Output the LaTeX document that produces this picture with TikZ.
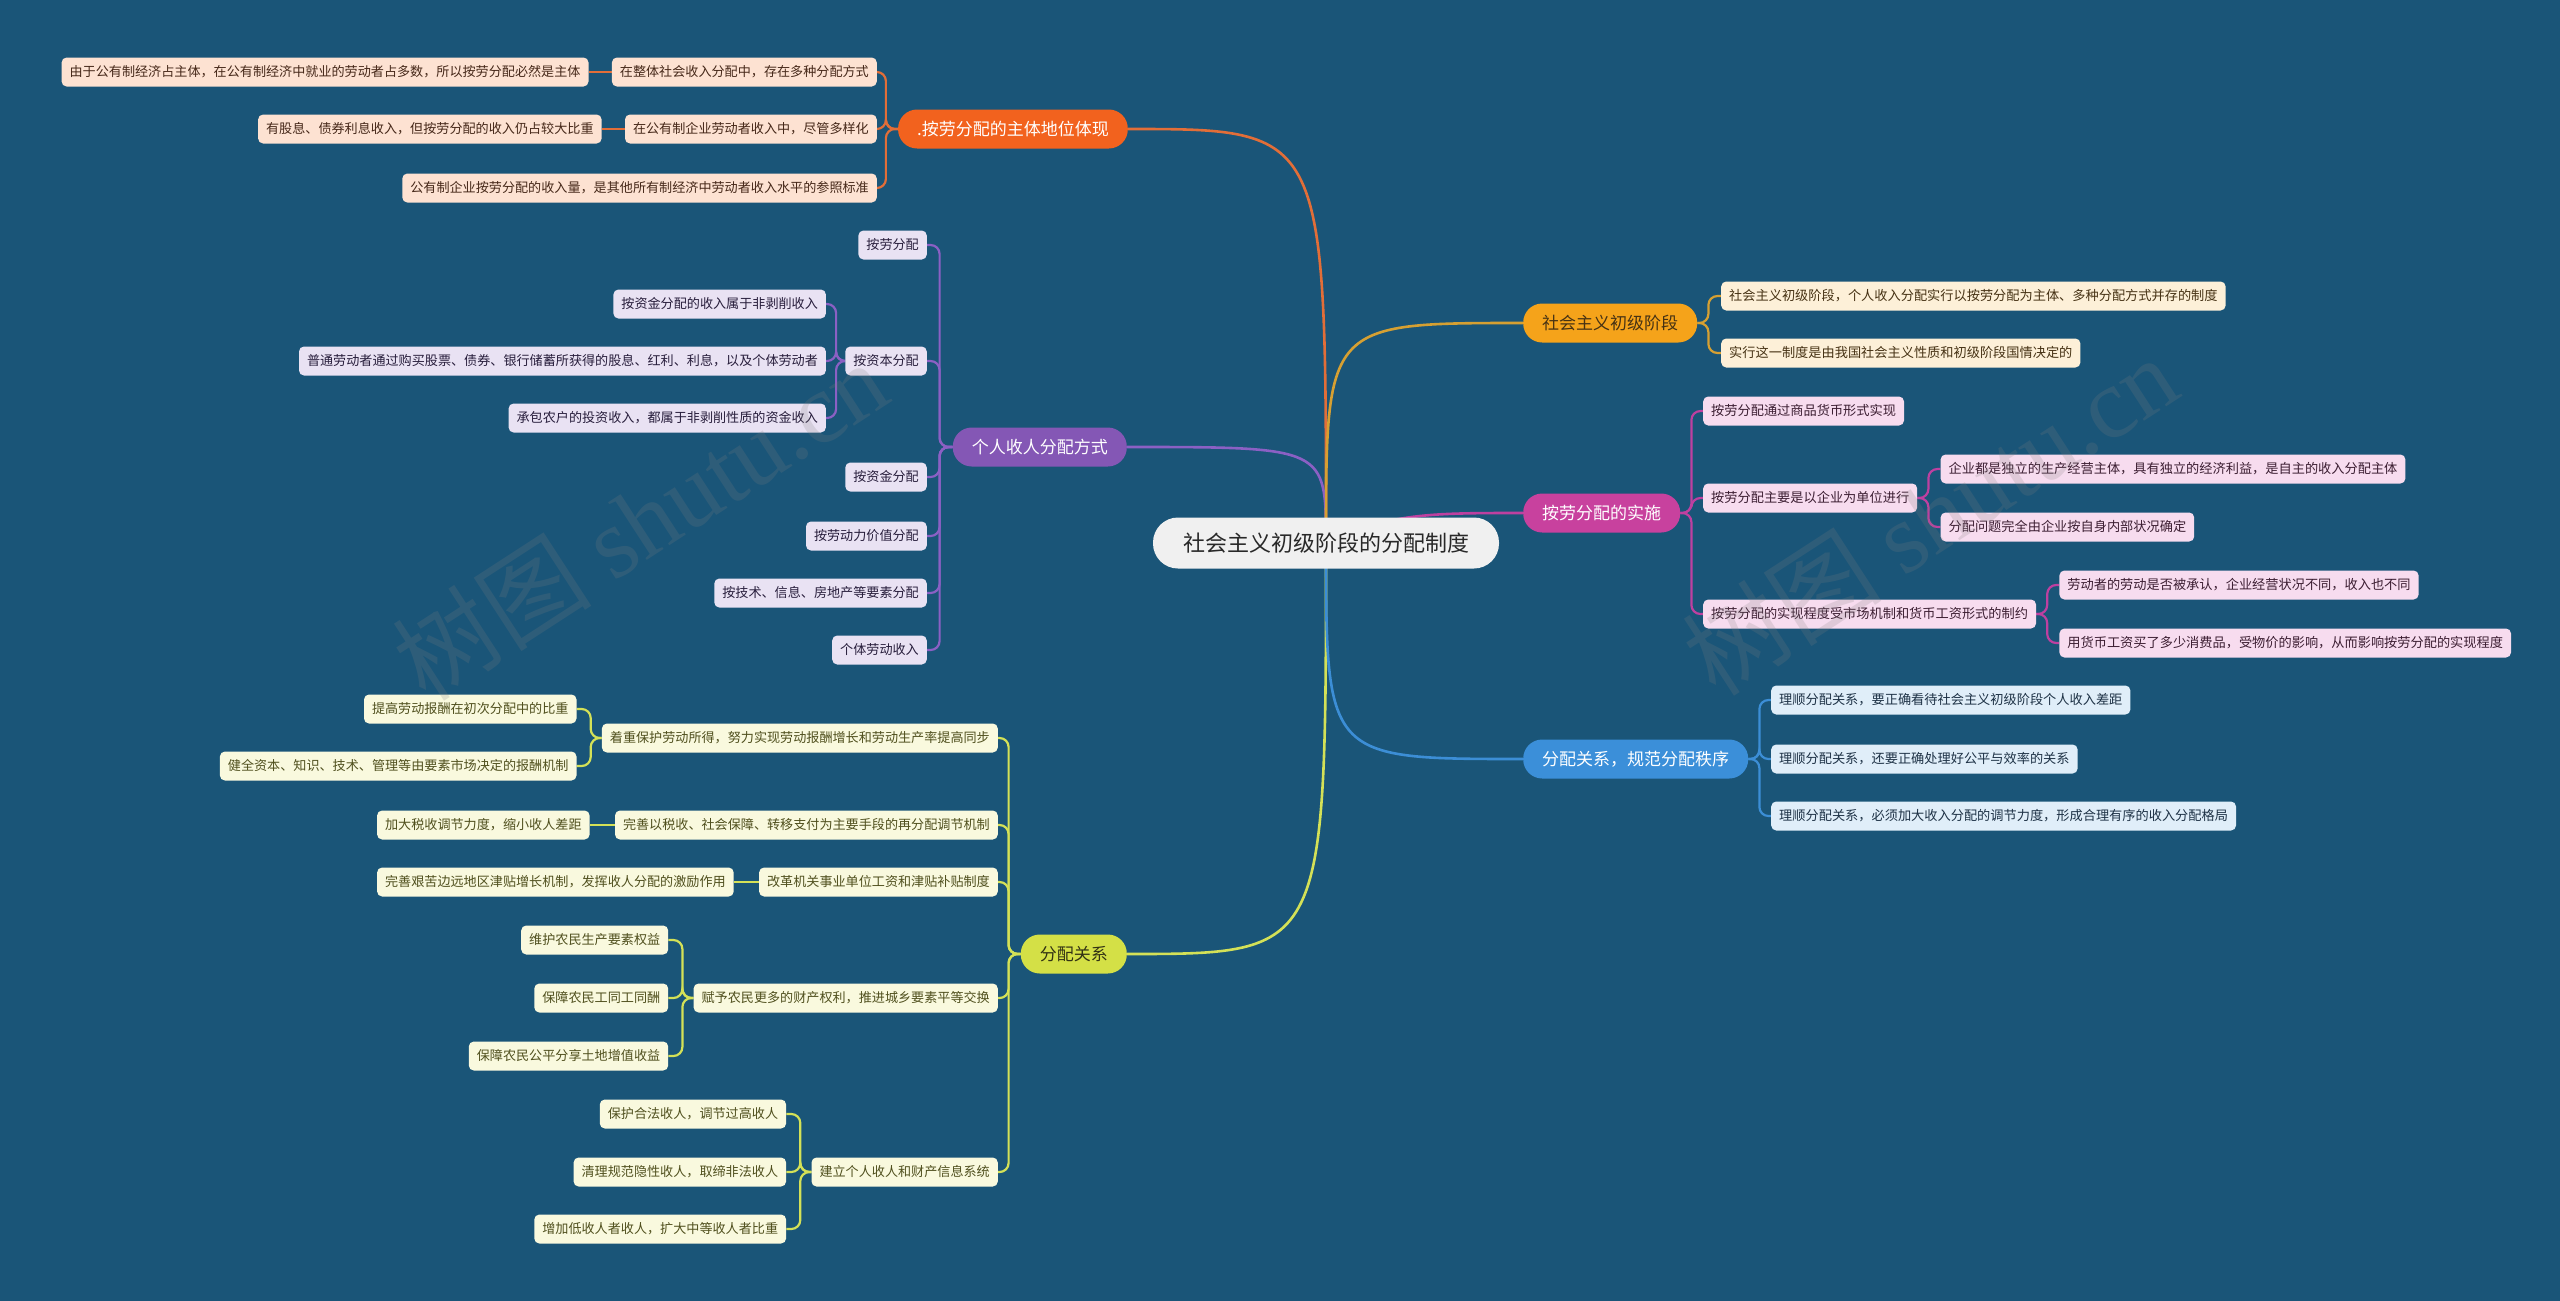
\documentclass[tikz,border=0pt]{standalone}
\usepackage{fontspec}
\setmainfont{Noto Sans CJK SC}
\newfontfamily\wmserif{Liberation Serif}
\usetikzlibrary{positioning}
\pgfdeclarelayer{bg}
\pgfdeclarelayer{edges}
\pgfsetlayers{bg,edges,main}
\definecolor{bgc}{RGB}{26,85,120}
\definecolor{oM}{RGB}{242,98,30}
\definecolor{oL}{RGB}{253,226,210}
\definecolor{oE}{RGB}{226,110,56}
\definecolor{oT}{RGB}{70,40,25}
\definecolor{pM}{RGB}{132,87,181}
\definecolor{pL}{RGB}{233,226,243}
\definecolor{pE}{RGB}{139,96,196}
\definecolor{pT}{RGB}{40,30,60}
\definecolor{yM}{RGB}{212,224,70}
\definecolor{yL}{RGB}{249,249,222}
\definecolor{yE}{RGB}{212,225,87}
\definecolor{yT}{RGB}{80,80,30}
\definecolor{sM}{RGB}{245,163,26}
\definecolor{sL}{RGB}{253,240,216}
\definecolor{sE}{RGB}{214,160,50}
\definecolor{sT}{RGB}{70,50,20}
\definecolor{mM}{RGB}{200,65,158}
\definecolor{mL}{RGB}{247,220,239}
\definecolor{mE}{RGB}{190,64,160}
\definecolor{mT}{RGB}{60,30,50}
\definecolor{bM}{RGB}{59,143,217}
\definecolor{bL}{RGB}{224,238,249}
\definecolor{bE}{RGB}{60,142,214}
\definecolor{bT}{RGB}{30,50,70}
\definecolor{rootF}{RGB}{240,240,240}
\tikzset{
  leafbase/.style={rounded corners=5pt, inner xsep=8pt, inner ysep=0pt,
    minimum height=29pt, text height=11pt, text depth=2pt,
    font=\fontsize{13.1}{15}\selectfont},
  rleafbase/.style={leafbase, font=\fontsize{13.2}{15}\selectfont},
  mainbase/.style={rounded corners=19pt, inner xsep=19pt, inner ysep=0pt,
    minimum height=39pt, text height=14pt, text depth=1.5pt,
    font=\fontsize{17}{20}\selectfont},
  rootn/.style={fill=rootF, text={rgb,255:red,40;green,40;blue,40}, rounded corners=25pt,
    inner xsep=30pt, inner ysep=0pt, minimum height=51pt, text height=18pt, text depth=1.5pt,
    font=\fontsize{22}{26}\selectfont},
  oleaf/.style={leafbase, fill=oL, text=oT},
  pleaf/.style={leafbase, fill=pL, text=pT},
  yleaf/.style={leafbase, fill=yL, text=yT},
  sleaf/.style={rleafbase, fill=sL, text=sT},
  mleaf/.style={rleafbase, fill=mL, text=mT},
  bleaf/.style={rleafbase, fill=bL, text=bT},
  rootedge/.style={line width=2.6pt},
  subedge/.style={line width=2.2pt, rounded corners=9pt},
  wm/.style={rotate=33, opacity=0.2, text=gray, font=\fontsize{100}{110}\selectfont},
}
\begin{document}
\begin{tikzpicture}[x=1pt, y=-1pt]
\useasboundingbox (0,0) rectangle (2560,1301);
\begin{pgfonlayer}{bg}
\fill[bgc] (0,0) rectangle (2560,1301);
\end{pgfonlayer}

% root
\node[rootn] (root) at (1326,543) {社会主义初级阶段的分配制度};

% ---------- orange branch ----------
\node[mainbase, fill=oM, text=white, anchor=east] (o) at (1128,129) {.按劳分配的主体地位体现};
\node[oleaf, anchor=east] (o1) at (877,72) {在整体社会收入分配中，存在多种分配方式};
\node[oleaf, anchor=east] (o2) at (877,129) {在公有制企业劳动者收入中，尽管多样化};
\node[oleaf, anchor=east] (o3) at (877,188) {公有制企业按劳分配的收入量，是其他所有制经济中劳动者收入水平的参照标准};
\node[oleaf, left=23pt of o1] (o11) {由于公有制经济占主体，在公有制经济中就业的劳动者占多数，所以按劳分配必然是主体};
\node[oleaf, left=23pt of o2] (o21) {有股息、债券利息收入，但按劳分配的收入仍占较大比重};

% ---------- purple branch ----------
\node[mainbase, fill=pM, text=white, anchor=east] (p) at (1127,447) {个人收人分配方式};
\node[pleaf, anchor=east] (p1) at (927,245) {按劳分配};
\node[pleaf, anchor=east] (p2) at (927,361) {按资本分配};
\node[pleaf, anchor=east] (p3) at (927,477) {按资金分配};
\node[pleaf, anchor=east] (p4) at (927,536) {按劳动力价值分配};
\node[pleaf, anchor=east] (p5) at (927,593) {按技术、信息、房地产等要素分配};
\node[pleaf, anchor=east] (p6) at (927,650) {个体劳动收入};
\node[pleaf, anchor=east, xshift=-19pt] (p21) at (p2.west |- 0,304) {按资金分配的收入属于非剥削收入};
\node[pleaf, anchor=east, xshift=-19pt] (p22) at (p2.west |- 0,361) {普通劳动者通过购买股票、债券、银行储蓄所获得的股息、红利、利息，以及个体劳动者};
\node[pleaf, anchor=east, xshift=-19pt] (p23) at (p2.west |- 0,418) {承包农户的投资收入，都属于非剥削性质的资金收入};

% ---------- yellow branch ----------
\node[mainbase, fill=yM, text={rgb,255:red,50;green,50;blue,20}, anchor=east] (y) at (1127,954) {分配关系};
\node[yleaf, anchor=east] (y1) at (998,738) {着重保护劳动所得，努力实现劳动报酬增长和劳动生产率提高同步};
\node[yleaf, anchor=east] (y2) at (998,825) {完善以税收、社会保障、转移支付为主要手段的再分配调节机制};
\node[yleaf, anchor=east] (y3) at (998,882) {改革机关事业单位工资和津贴补贴制度};
\node[yleaf, anchor=east] (y4) at (998,998) {赋予农民更多的财产权利，推进城乡要素平等交换};
\node[yleaf, anchor=east] (y5) at (998,1172) {建立个人收人和财产信息系统};
\node[yleaf, anchor=east, xshift=-25pt] (y11) at (y1.west |- 0,709) {提高劳动报酬在初次分配中的比重};
\node[yleaf, anchor=east, xshift=-25pt] (y12) at (y1.west |- 0,766) {健全资本、知识、技术、管理等由要素市场决定的报酬机制};
\node[yleaf, anchor=east, xshift=-25pt] (y21) at (y2.west |- 0,825) {加大税收调节力度，缩小收人差距};
\node[yleaf, anchor=east, xshift=-25pt] (y31) at (y3.west |- 0,882) {完善艰苦边远地区津贴增长机制，发挥收人分配的激励作用};
\node[yleaf, anchor=east, xshift=-25pt] (y41) at (y4.west |- 0,940) {维护农民生产要素权益};
\node[yleaf, anchor=east, xshift=-25pt] (y42) at (y4.west |- 0,998) {保障农民工同工同酬};
\node[yleaf, anchor=east, xshift=-25pt] (y43) at (y4.west |- 0,1056) {保障农民公平分享土地增值收益};
\node[yleaf, anchor=east, xshift=-25pt] (y51) at (y5.west |- 0,1114) {保护合法收人，调节过高收人};
\node[yleaf, anchor=east, xshift=-25pt] (y52) at (y5.west |- 0,1172) {清理规范隐性收人，取缔非法收人};
\node[yleaf, anchor=east, xshift=-25pt] (y53) at (y5.west |- 0,1229) {增加低收人者收人，扩大中等收人者比重};

% ---------- right: stage ----------
\node[mainbase, fill=sM, text=sT, anchor=west] (s) at (1523,323) {社会主义初级阶段};
\node[sleaf, anchor=west] (s1) at (1721,296) {社会主义初级阶段，个人收入分配实行以按劳分配为主体、多种分配方式并存的制度};
\node[sleaf, anchor=west] (s2) at (1721,353) {实行这一制度是由我国社会主义性质和初级阶段国情决定的};

% ---------- right: implementation ----------
\node[mainbase, fill=mM, text=white, anchor=west] (m) at (1523,513) {按劳分配的实施};
\node[mleaf, anchor=west] (m1) at (1703,411) {按劳分配通过商品货币形式实现};
\node[mleaf, anchor=west] (m2) at (1703,498) {按劳分配主要是以企业为单位进行};
\node[mleaf, anchor=west] (m3) at (1703,614) {按劳分配的实现程度受市场机制和货币工资形式的制约};
\node[mleaf, anchor=west, xshift=23pt] (m21) at (m2.east |- 0,469) {企业都是独立的生产经营主体，具有独立的经济利益，是自主的收入分配主体};
\node[mleaf, anchor=west, xshift=23pt] (m22) at (m2.east |- 0,527) {分配问题完全由企业按自身内部状况确定};
\node[mleaf, anchor=west, xshift=23pt] (m31) at (m3.east |- 0,585) {劳动者的劳动是否被承认，企业经营状况不同，收入也不同};
\node[mleaf, anchor=west, xshift=23pt] (m32) at (m3.east |- 0,643) {用货币工资买了多少消费品，受物价的影响，从而影响按劳分配的实现程度};

% ---------- right: blue ----------
\node[mainbase, fill=bM, text=white, anchor=west] (b) at (1523,759) {分配关系，规范分配秩序};
\node[bleaf, anchor=west] (b1) at (1771,700) {理顺分配关系，要正确看待社会主义初级阶段个人收入差距};
\node[bleaf, anchor=west] (b2) at (1771,759) {理顺分配关系，还要正确处理好公平与效率的关系};
\node[bleaf, anchor=west] (b3) at (1771,816) {理顺分配关系，必须加大收入分配的调节力度，形成合理有序的收入分配格局};

% ---------- edges ----------
\begin{pgfonlayer}{edges}
\draw[rootedge, oE] (root.center) .. controls (1326,129) .. (o.east);
\draw[rootedge, pE] (root.center) .. controls (1326,447) .. (p.east);
\draw[rootedge, yE] (root.center) .. controls (1326,954) .. (y.east);
\draw[rootedge, sE] (root.center) .. controls (1326,323) .. (s.west);
\draw[rootedge, mE] (root.center) .. controls (1390,513) and (1430,513) .. (m.west);
\draw[rootedge, bE] (root.center) .. controls (1326,759) .. (b.west);

\foreach \c in {o1,o2,o3} \draw[subedge, oE] (o.west) -- ++(-12,0) |- (\c.east);
\draw[subedge, oE] (o1.west) -- (o11.east);
\draw[subedge, oE] (o2.west) -- (o21.east);

\foreach \c in {p1,p2,p3,p4,p5,p6} \draw[subedge, pE] (p.west) -- ++(-13,0) |- (\c.east);
\foreach \c in {p21,p22,p23} \draw[subedge, pE] (p2.west) -- ++(-9,0) |- (\c.east);

\foreach \c in {y1,y2,y3,y4,y5} \draw[subedge, yE] (y.west) -- ++(-12,0) |- (\c.east);
\foreach \c in {y11,y12} \draw[subedge, yE] (y1.west) -- ++(-11,0) |- (\c.east);
\draw[subedge, yE] (y2.west) -- (y21.east);
\draw[subedge, yE] (y3.west) -- (y31.east);
\foreach \c in {y41,y42,y43} \draw[subedge, yE] (y4.west) -- ++(-11,0) |- (\c.east);
\foreach \c in {y51,y52,y53} \draw[subedge, yE] (y5.west) -- ++(-11,0) |- (\c.east);

\foreach \c in {s1,s2} \draw[subedge, sE] (s.east) -- ++(11,0) |- (\c.west);
\foreach \c in {m1,m2,m3} \draw[subedge, mE] (m.east) -- ++(11,0) |- (\c.west);
\foreach \c in {m21,m22} \draw[subedge, mE] (m2.east) -- ++(11,0) |- (\c.west);
\foreach \c in {m31,m32} \draw[subedge, mE] (m3.east) -- ++(11,0) |- (\c.west);
\foreach \c in {b1,b2,b3} \draw[subedge, bE] (b.east) -- ++(11,0) |- (\c.west);
\end{pgfonlayer}

% watermarks
\node[wm] (wm1) at (640,520) {树图 {\wmserif shutu.cn}};
\node[wm] (wm2) at (1930,515) {树图 {\wmserif shutu.cn}};
\end{tikzpicture}
\end{document}
